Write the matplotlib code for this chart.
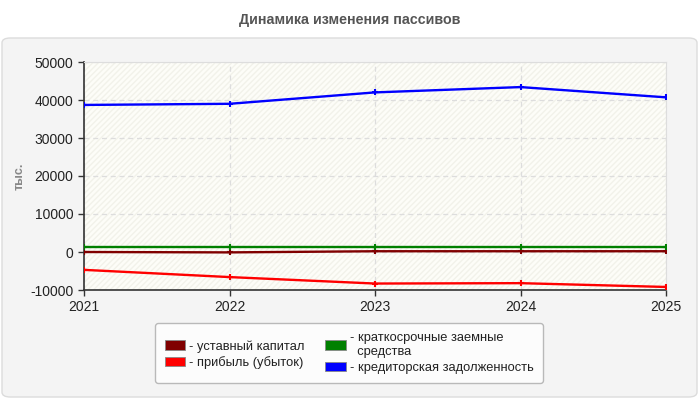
import matplotlib
matplotlib.use("Agg")
import matplotlib.pyplot as plt
from matplotlib.patches import FancyBboxPatch, Rectangle

plt.rcParams['font.family'] = ['Liberation Sans', 'DejaVu Sans']

years = [2021, 2022, 2023, 2024, 2025]
ustavny = [0, -100, 200, 200, 200]
pribyl = [-4700, -6600, -8300, -8200, -9200]
kratkosroch = [1300, 1300, 1300, 1300, 1300]
kreditor = [38700, 39000, 42000, 43400, 40700]

series = [
    ("- уставный капитал", ustavny, "#800000"),
    ("- прибыль (убыток)", pribyl, "#ff0000"),
    ("- краткосрочные заемные\n  средства", kratkosroch, "#008000"),
    ("- кредиторская задолженность", kreditor, "#0000ff"),
]
yticks = [-10000, 0, 10000, 20000, 30000, 40000, 50000]

W, H = 700, 400
fig = plt.figure(figsize=(7, 4), dpi=100)
fig.patch.set_facecolor("white")

# panel
panel = FancyBboxPatch((2 / W, 3 / H), 695 / W, 359 / H,
                       boxstyle="round,pad=0,rounding_size=0.012",
                       transform=fig.transFigure, facecolor="#f4f4f4",
                       edgecolor="#dcdcdc", linewidth=1.0, zorder=-5)
fig.patches.append(panel)

fig.text(350 / W, 1 - 20 / H, "Динамика изменения пассивов", ha="center",
         va="center", fontsize=10.3, fontweight="bold", color="#555555")

ax = fig.add_axes([84 / W, 1 - 290 / H, 582 / W, 228 / H])
ax.set_zorder(1)
ax.set_facecolor("#fdfdf8")
ax.add_patch(Rectangle((0, 0), 1, 1, transform=ax.transAxes, facecolor="none",
                       edgecolor="#f2f2ea", hatch="//////", linewidth=0, zorder=0))

for label, vals, col in series:
    ax.plot(years, vals, color=col, linewidth=1.7, marker="+", markersize=5,
            markeredgewidth=1.5, label=label, zorder=3)

ax.set_xlim(2021, 2025)
ax.set_ylim(-10000, 50000)
ax.set_xticks(years)
ax.set_yticks(yticks)
ax.set_yticklabels([str(v) for v in yticks])
ax.tick_params(labelsize=10, colors="#222222", length=4, width=1, color="#333333")
ax.grid(True, color="#dddddd", linestyle=(0, (4, 3)), linewidth=0.9)
for s in ["top", "right"]:
    ax.spines[s].set_color("#dddddd")
for s in ["left", "bottom"]:
    ax.spines[s].set_color("#333333")
    ax.spines[s].set_linewidth(1.2)

fig.text(20 / W, 1 - 176 / H, "тыс.", rotation=90, ha="center", va="center",
         fontsize=9, fontweight="bold", color="#888888")

handles = [FancyBboxPatch((0, 0), 1, 1, boxstyle="round,pad=0,rounding_size=0.3",
                          facecolor=c, edgecolor="#888888", linewidth=0.6)
           for _, _, c in series]
labels = [l for l, _, _ in series]
leg = fig.legend(handles, labels, loc="center", bbox_to_anchor=(349 / W, 1 - 353 / H),
                 ncol=2, fontsize=9.3, frameon=True, handlelength=1.6, handleheight=0.7,
                 handletextpad=0.3, columnspacing=1.6, labelspacing=0.3,
                 borderpad=0.7, fancybox=True)
leg.get_frame().set_facecolor("white")
leg.get_frame().set_edgecolor("#aaaaaa")
for t in leg.get_texts():
    t.set_color("#222222")

fig.savefig("out.png", dpi=100)
